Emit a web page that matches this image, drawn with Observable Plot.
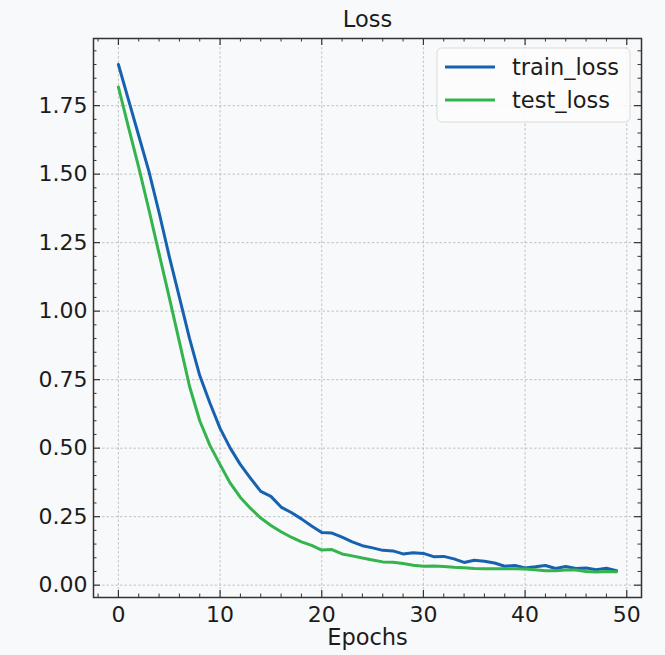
<!DOCTYPE html>
<html><head><meta charset="utf-8">
<script src="https://cdn.jsdelivr.net/npm/d3@7"></script>
<script src="https://cdn.jsdelivr.net/npm/@observablehq/plot@0.6"></script>
<style>
html,body{margin:0;padding:0;background:#f8f9fa;}
#chart{width:665px;height:655px;}
</style></head><body><div id="chart"></div>
<script>
const epochs = [0,1,2,3,4,5,6,7,8,9,10,11,12,13,14,15,16,17,18,19,20,21,22,23,24,25,26,27,28,29,30,31,32,33,34,35,36,37,38,39,40,41,42,43,44,45,46,47,48,49];
const trainLoss = [1.900,1.770,1.640,1.510,1.360,1.200,1.050,0.900,0.765,0.665,0.572,0.500,0.440,0.390,0.342,0.324,0.285,0.265,0.242,0.216,0.192,0.190,0.175,0.158,0.144,0.136,0.127,0.125,0.114,0.118,0.116,0.104,0.105,0.096,0.083,0.091,0.087,0.081,0.069,0.072,0.063,0.067,0.072,0.061,0.068,0.061,0.063,0.056,0.062,0.053];
const testLoss = [1.818,1.670,1.525,1.370,1.210,1.050,0.888,0.725,0.600,0.510,0.440,0.372,0.320,0.280,0.245,0.218,0.195,0.175,0.158,0.145,0.128,0.130,0.114,0.107,0.099,0.092,0.085,0.084,0.079,0.073,0.069,0.070,0.068,0.065,0.064,0.061,0.060,0.060,0.060,0.060,0.059,0.056,0.053,0.053,0.055,0.055,0.050,0.048,0.050,0.049];
const seriesNames = ["train_loss", "test_loss"];
const seriesColors = ["#1762b0", "#34b44c"];
const xMajor = [0, 10, 20, 30, 40, 50];
const xMinor = [-2, 2, 4, 6, 8, 12, 14, 16, 18, 22, 24, 26, 28, 32, 34, 36, 38, 42, 44, 46, 48];
const yMajor = [0, 0.25, 0.5, 0.75, 1.0, 1.25, 1.5, 1.75];
const yMinor = [0.05,0.10,0.15,0.20,0.30,0.35,0.40,0.45,0.55,0.60,0.65,0.70,0.80,0.85,0.90,0.95,1.05,1.10,1.15,1.20,1.30,1.35,1.40,1.45,1.55,1.60,1.65,1.70,1.80,1.85,1.90,1.95];
const titleText = "Loss";
const xLabel = "Epochs";

const data = [];
epochs.forEach((e, i) => {
  data.push({epoch: e, loss: trainLoss[i], series: seriesNames[0]});
});
epochs.forEach((e, i) => {
  data.push({epoch: e, loss: testLoss[i], series: seriesNames[1]});
});

const W = 665, H = 655;
const mL = 93, mR = 24, mT = 38, mB = 58;
const fw = W - mL - mR, fh = H - mT - mB;
const FS = 22.5;
const TFS = 22;
const txtCol = "#1c1c1c";
const tickCol = "#333";
const major = 7, minor = 3.5;

const plot = Plot.plot({
  width: W, height: H,
  marginLeft: mL, marginRight: mR, marginTop: mT, marginBottom: mB,
  style: {fontFamily: "DejaVu Sans", fontSize: FS + "px", background: "#f8f9fa", color: txtCol},
  x: {domain: [-2.45, 51.45], label: null},
  y: {domain: [-0.045, 1.995], label: null},
  color: {domain: seriesNames, range: seriesColors},
  marks: [
    Plot.ruleX(xMajor, {x: d => d, stroke: "#b5b5b5", strokeWidth: 0.8, strokeDasharray: "2.5,2"}),
    Plot.ruleY(yMajor, {y: d => d, stroke: "#b5b5b5", strokeWidth: 0.8, strokeDasharray: "2.5,2"}),
    Plot.line(data, {x: "epoch", y: "loss", stroke: "series", z: "series", strokeWidth: 3}),
    Plot.tickX(xMajor, {x: d => d, insetTop: fh - major, stroke: tickCol, strokeWidth: 1.2}),
    Plot.tickX(xMajor, {x: d => d, insetBottom: fh - major, stroke: tickCol, strokeWidth: 1.2}),
    Plot.tickX(xMinor, {x: d => d, insetTop: fh - minor, stroke: tickCol, strokeWidth: 1}),
    Plot.tickX(xMinor, {x: d => d, insetBottom: fh - minor, stroke: tickCol, strokeWidth: 1}),
    Plot.tickY(yMajor, {y: d => d, insetRight: fw - major, stroke: tickCol, strokeWidth: 1.2}),
    Plot.tickY(yMajor, {y: d => d, insetLeft: fw - major, stroke: tickCol, strokeWidth: 1.2}),
    Plot.tickY(yMinor, {y: d => d, insetRight: fw - minor, stroke: tickCol, strokeWidth: 1}),
    Plot.tickY(yMinor, {y: d => d, insetLeft: fw - minor, stroke: tickCol, strokeWidth: 1}),
    Plot.frame({stroke: tickCol, strokeWidth: 1.5}),
    Plot.axisX(xMajor, {tickSize: 0, tickPadding: 9, fontSize: TFS, fill: txtCol, label: null}),
    Plot.axisY(yMajor, {tickSize: 0, tickPadding: 6, fontSize: TFS, fill: txtCol, tickFormat: d3.format(".2f"), label: null}),
    Plot.text([titleText], {text: d => d, frameAnchor: "top", lineAnchor: "middle", dy: -19, fontSize: FS, fill: txtCol}),
    Plot.text([xLabel], {text: d => d, frameAnchor: "bottom", lineAnchor: "middle", dy: 40, fontSize: FS, fill: txtCol})
  ]
});
document.getElementById("chart").appendChild(plot);

// legend (upper right, inside frame)
const svg = d3.select(plot);
const lg = svg.append("g");
const lx = W - mR - 11 - 193, ly = mT + 10;
lg.append("rect").attr("x", lx).attr("y", ly).attr("width", 193).attr("height", 74)
  .attr("rx", 5).attr("fill", "#fdfdfd").attr("fill-opacity", 0.85).attr("stroke", "#dadada").attr("stroke-width", 1);
seriesNames.forEach((name, i) => {
  const cy = ly + 19 + i * 33;
  lg.append("line").attr("x1", lx + 8).attr("x2", lx + 58).attr("y1", cy).attr("y2", cy)
    .attr("stroke", seriesColors[i]).attr("stroke-width", 3);
  lg.append("text").attr("x", lx + 75).attr("y", cy).attr("dy", "0.35em")
    .attr("text-anchor", "start")
    .attr("font-size", FS).attr("fill", txtCol).attr("font-family", "DejaVu Sans").text(name);
});
</script></body></html>
